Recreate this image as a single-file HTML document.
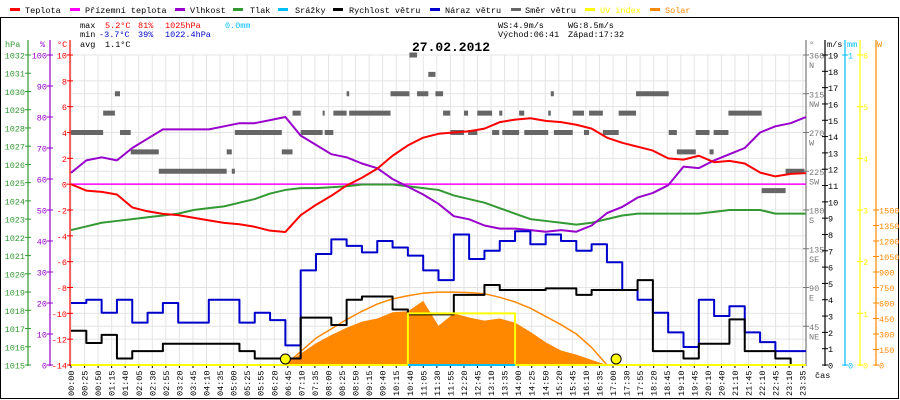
<!DOCTYPE html>
<html><head><meta charset="utf-8"><style>
html,body{margin:0;padding:0;background:#fff;}
svg{display:block;font-family:"Liberation Mono",monospace;}
</style></head><body>
<svg id="chart" width="900" height="400" viewBox="0 0 900 400" xmlns="http://www.w3.org/2000/svg">
<rect x="0" y="0" width="900" height="400" fill="#fff"/>
<rect x="0.5" y="17.5" width="898" height="381" fill="none" stroke="#000"/>
<g id="grid"></g>
<g id="legend" font-size="8.5"></g>
<g font-size="8.5">
<text x="80" y="28" fill="#000">max</text><text x="105" y="28" fill="#f00">5.2°C</text><text x="138" y="28" fill="#f00">81%</text><text x="165" y="28" fill="#f00">1025hPa</text><text x="225" y="28" fill="#00bfff">0.0mm</text>
<text x="80" y="37" fill="#000">min</text><text x="99" y="37" fill="#00c">-3.7°C</text><text x="138" y="37" fill="#00c">39%</text><text x="165" y="37" fill="#00c">1022.4hPa</text>
<text x="80" y="47" fill="#000">avg</text><text x="105" y="47" fill="#000">1.1°C</text>
<text x="498" y="28" fill="#000">WS:4.9m/s</text><text x="568" y="28" fill="#000">WG:8.5m/s</text>
<text x="498" y="37" fill="#000">Východ:06:41</text><text x="568" y="37" fill="#000">Západ:17:32</text>
</g>
<text x="412" y="51" font-size="13" font-weight="bold" fill="#000">27.02.2012</text>
<g id="axes" font-size="8.5"></g>
<g id="marks"></g>
</svg>
<script>
const timeLabels = ["00:00","00:25","00:50","01:15","01:40","02:05","02:30","02:55","03:20","03:45","04:10","04:35","05:00","05:25","05:55","06:20","06:45","07:10","07:35","08:00","08:25","08:50","09:15","09:40","10:15","10:40","11:05","11:30","11:55","12:20","12:45","13:10","13:35","14:00","14:25","14:50","15:20","15:45","16:10","16:35","17:00","17:30","17:55","18:20","18:45","19:10","19:45","20:10","20:40","21:10","21:45","22:10","22:45","23:10","23:35"];
const temperature = [0,-0.5,-0.6,-0.8,-1.8,-2.1,-2.3,-2.4,-2.6,-2.8,-3.0,-3.1,-3.3,-3.6,-3.7,-2.4,-1.6,-0.9,-0.1,0.5,1.2,2.2,3.0,3.6,3.9,4.0,4.1,4.3,4.8,5.0,5.1,4.9,4.8,4.6,4.3,3.6,3.2,2.9,2.6,2.0,1.9,2.2,1.7,1.8,1.6,0.9,0.6,0.8,0.85];
const groundTemp = [0,0,0,0,0,0,0,0,0,0,0,0,0,0,0,0,0,0,0,0,0,0,0,0,0,0,0,0,0,0,0,0,0,0,0,0,0,0,0,0,0,0,0,0,0,0,0,0,0];
const humidity = [62,66,67,66,70,73,76,76,76,76,77,78,78,79,80,74,71,68,67,65,63.5,60,57.5,55,52,48,47,45,44,44,43.5,43,43.5,43,45,49,51,54,55.5,58,64,63.5,66,68,70,75,77,78,80];
const pressure = [1022.4,1022.6,1022.8,1022.9,1023.0,1023.1,1023.2,1023.3,1023.5,1023.6,1023.7,1023.9,1024.1,1024.4,1024.6,1024.7,1024.7,1024.75,1024.8,1024.9,1024.9,1024.9,1024.8,1024.7,1024.6,1024.3,1024.1,1023.9,1023.6,1023.3,1023.0,1022.9,1022.8,1022.7,1022.8,1023.0,1023.2,1023.3,1023.3,1023.3,1023.3,1023.3,1023.4,1023.5,1023.5,1023.5,1023.3,1023.3,1023.3];
const windSpeed = [2.1,1.35,1.85,0.4,0.85,0.85,1.3,1.3,1.3,1.3,1.3,0.85,0.4,0.4,0.4,2.9,2.9,2.45,4.0,4.2,4.2,3.4,3.1,3.1,3.1,4.3,4.3,4.9,4.6,4.6,4.6,4.7,4.7,4.3,4.6,4.6,4.6,5.2,0.85,0.85,0.4,1.3,1.3,2.8,0.85,0.85,0.4,0,0];
const windGust = [3.8,4.0,3.2,4.0,2.6,3.2,3.8,2.6,2.6,4.0,4.0,2.6,3.2,2.75,1.2,5.8,6.8,7.7,7.3,6.9,7.6,7.2,6.7,5.8,5.2,8.0,6.5,7.0,7.6,8.2,7.4,8.0,7.6,7.0,7.4,6.3,4.6,4.0,3.2,2.0,1.1,4.0,3.0,3.6,2.0,1.4,0.85,0.85,0.85];
const solar = [0,0,0,0,0,0,0,0,0,0,0,0,0,0,0,110,210,290,360,420,450,510,520,620,380,500,460,430,450,410,320,220,140,100,50,0,0,0,0,0,0,0,0,0,0,0,0,0,0];
const solarMax = [0,0,0,0,0,0,0,0,0,0,0,0,0,0,0,130,260,350,440,520,590,640,670,695,705,705,700,690,655,610,550,470,390,300,170,0,0,0,0,0,0,0,0,0,0,0,0,0,0];
const uvIndex = [0,0,0,0,0,0,0,0,0,0,0,0,0,0,0,0,0,0,0,0,0,0,1,1,1,1,1,1,1,0,0,0,0,0,0,0,0,0,0,0,0,0,0,0,0,0,0,0,0];
const rain = [null,null,null,null,null,null,null,null,null,null,null,null,null,null,null,null,null,null,null,null,null,null,0,0,0,0,0,0,0,0,null,null,null,null,null,null,null,null,null,null,null,null,null,null,null,null,null,null,null];
const dirStartMin = [0,63,86,96,117,172,305,315,321,413,434,450,493,497,514,540,545,626,663,678,700,714,729,743,770,778,796,825,839,845,878,888,935,940,946,983,1005,1015,1042,1073,1107,1171,1187,1224,1251,1259,1288,1353,1400];
const dirDeg = [270,292.5,315,270,247.5,225,247.5,225,270,247.5,292.5,270,292.5,270,292.5,315,292.5,315,360,315,337.5,315,292.5,270,292.5,270,292.5,270,292.5,270,292.5,270,292.5,315,270,292.5,270,292.5,270,292.5,315,270,247.5,270,247.5,270,292.5,202.5,225];
const dirEndMin = 1437;
const sunEventsMin = [420, 1068];

const NS = "http://www.w3.org/2000/svg";
const L = 71, R = 806, TOP = 55, BOT = 365;
const nS = temperature.length - 1;
const xS = i => L + i * (R - L) / nS;
const xMin = m => xS(m / 30);
const xLab = j => 71 + j * 13.55;
const yT = c => BOT - (c + 14) * (BOT - TOP) / 24;
const yH = h => BOT - h * (BOT - TOP) / 100;
const yP = p => BOT - (p - 1015) * (BOT - TOP) / 17;
const yW = v => BOT - v * (BOT - TOP) / 19;
const yD = d => BOT - d * (BOT - TOP) / 360;
const yS = w => BOT - w * (BOT - TOP) / 3000;
const yU = u => BOT - u * (BOT - TOP) / 6;
const yR = mm => BOT - mm * (BOT - TOP) / 1;

function mk(tag, attrs, parent) {
  const e = document.createElementNS(NS, tag);
  for (const k in attrs) e.setAttribute(k, attrs[k]);
  parent.appendChild(e);
  return e;
}
const grid = document.getElementById('grid');
const axes = document.getElementById('axes');
const marks = document.getElementById('marks');
const legend = document.getElementById('legend');

for (let j = 0; j < timeLabels.length; j++) {
  const g = mk('line', {x1: xLab(j), x2: xLab(j), y1: TOP, y2: BOT, stroke: '#e4e4e4'}, grid);
  
  
}
for (let c = -12; c <= 10; c += 2) {
  const g = mk('line', {x1: L, x2: R, y1: yT(c), y2: yT(c), stroke: '#e4e4e4'}, grid);
  
  
}
for (let d = 45; d <= 360; d += 45) {
  const g = mk('line', {x1: L, x2: R, y1: yD(d), y2: yD(d), stroke: '#e4e4e4'}, grid);
  
  
}

const legItems = [["Teplota","#f00",10,25],["Přízemní teplota","#f0f",70,85],["Vlhkost","#90c",175,190],["Tlak","#393",233,250],["Srážky","#00bfff",278,295],["Rychlost větru","#000",333,349],["Náraz větru","#00c",430,445],["Směr větru","#666",511,525],["UV index","#ff0",585,600],["Solar","#f80",650,665]];
legItems.forEach(it => {
  const g = mk('g', {}, legend);
  
  
  mk('rect', {x: it[2], y: 8, width: 10, height: 3, fill: it[1]}, g);
  const t = mk('text', {x: it[3], y: 13, fill: it[0]==="UV index"||it[0]==="Solar" ? it[1] : '#000'}, g);
  t.textContent = it[0];
});

function axis(name, x, color, ticks, yf, side, hdr, hdrX, sub) {
  const g = mk('g', {}, axes);
  
  
  mk('line', {x1: x, x2: x, y1: 40, y2: BOT + 1, stroke: color, 'stroke-width': 1.2}, g);
  const h = mk('text', {x: hdrX, y: 47, fill: color}, g);
  h.textContent = hdr;
  ticks.forEach((v, k) => {
    const y = yf(v);
    mk('line', {x1: x - 3, x2: x + 3, y1: y, y2: y, stroke: color}, g);
    const t = mk('text', {x: side < 0 ? x - 3 : x + 3, y: y + 3.5, fill: color, 'text-anchor': side < 0 ? 'end' : 'start'}, g);
    t.textContent = v;
    if (sub) { const s = mk('text', {x: x + 3, y: y + 13, fill: color}, g); s.textContent = sub[k]; }
  });
}
const hpaTicks = [1015,1016,1017,1018,1019,1020,1021,1022,1023,1024,1025,1026,1027,1028,1029,1030,1031,1032];
const humTicks = [0,10,20,30,40,50,60,70,80,90,100];
const tempTicks = [-14,-12,-10,-8,-6,-4,-2,0,2,4,6,8,10];
const dirTicks = [45,90,135,180,225,270,315,360];
const dirNames = ["NE","E","SE","S","SW","W","NW","N"];
const wsTicks = [0,1,2,3,4,5,6,7,8,9,10,11,12,13,14,15,16,17,18,19];
const mmTicks = [0,1];
const uvTicks = [0,1,2,3,4,5,6];
const wTicks = [0,150,300,450,600,750,900,1050,1200,1350,1500];
axis('pressure-axis', 28, '#393', hpaTicks, yP, -1, 'hPa', 5);
axis('humidity-axis', 50, '#90c', humTicks, yH, -1, '%', 40);
axis('temperature-axis', 70, '#f00', tempTicks, yT, -1, '°C', 57);
axis('direction-axis', 806, '#777', dirTicks, yD, 1, '°', 809, dirNames);
axis('wind-speed-axis', 825, '#000', wsTicks, yW, 1, 'm/s', 827);
axis('rain-axis', 845, '#00bfff', mmTicks, yR, 1, 'mm', 847);
axis('uv-axis', 860, '#ff0', uvTicks, yU, 1, '', 862);
axis('solar-axis', 876, '#f80', wTicks, yS, 1, 'W', 877);
const cas = mk('text', {x: 815, y: 378, fill: '#000'}, axes);
cas.textContent = 'čas';


timeLabels.forEach((lab, j) => {
  const x = xLab(j);
  mk('line', {x1: x, x2: x, y1: BOT, y2: BOT + 3, stroke: '#000'}, axes);
  const t = mk('text', {x: 0, y: 0, fill: '#000', 'font-size': 8.5, transform: `translate(${x + 3},396) rotate(-90)`}, axes);
  t.textContent = lab;
  
  
});

function poly(arr, yf, color, name, step, w) {
  let d = '', pen = false;
  arr.forEach((v, i) => {
    if (v === null) { pen = false; return; }
    const x = xS(i), y = yf(v);
    if (!pen) { d += `M${x},${y}`; pen = true; }
    else if (step) { d += `H${x}V${y}`; }
    else { d += `L${x},${y}`; }
  });
  const p = mk('path', {d: d, fill: 'none', stroke: color, 'stroke-width': w || 2, 'stroke-linejoin': 'round'}, marks);
  
  
  return p;
}
{
  let d = `M${xS(0)},${yS(0)}`;
  solar.forEach((v, i) => { d += `L${xS(i)},${yS(v)}`; });
  d += `L${xS(nS)},${yS(0)}Z`;
  const p = mk('path', {d: d, fill: '#f80', stroke: 'none'}, marks);
  
  
}
poly(solarMax, yS, '#f80', 'solar-max-line', false, 1.5);
dirDeg.forEach((d, k) => {
  const x1 = xMin(dirStartMin[k]);
  const x2 = xMin(k + 1 < dirStartMin.length ? dirStartMin[k + 1] : dirEndMin);
  const r = mk('rect', {x: x1, y: yD(d) - 2.5, width: Math.max(1, x2 - x1), height: 5, fill: '#666'}, marks);
  
  
});
poly(groundTemp, yT, '#f0f', 'ground-temperature-line', false, 1.5);
poly(pressure, yP, '#393', 'pressure-line', false, 2);
poly(humidity, yH, '#90c', 'humidity-line', false, 2);
poly(temperature, yT, '#f00', 'temperature-line', false, 2);
poly(windGust, yW, '#00c', 'wind-gust-line', true, 2);
poly(windSpeed, yW, '#000', 'wind-speed-line', true, 2);
poly(uvIndex, yU, '#ff0', 'uv-index-line', true, 2);
poly(rain, yR, '#00bfff', 'rain-line', false, 2);
sunEventsMin.forEach(m => {
  const c = mk('circle', {cx: xMin(m), cy: BOT - 6, r: 5, fill: '#ff0', stroke: '#000', 'stroke-width': 1}, marks);
  
  
});
</script>
</body></html>
